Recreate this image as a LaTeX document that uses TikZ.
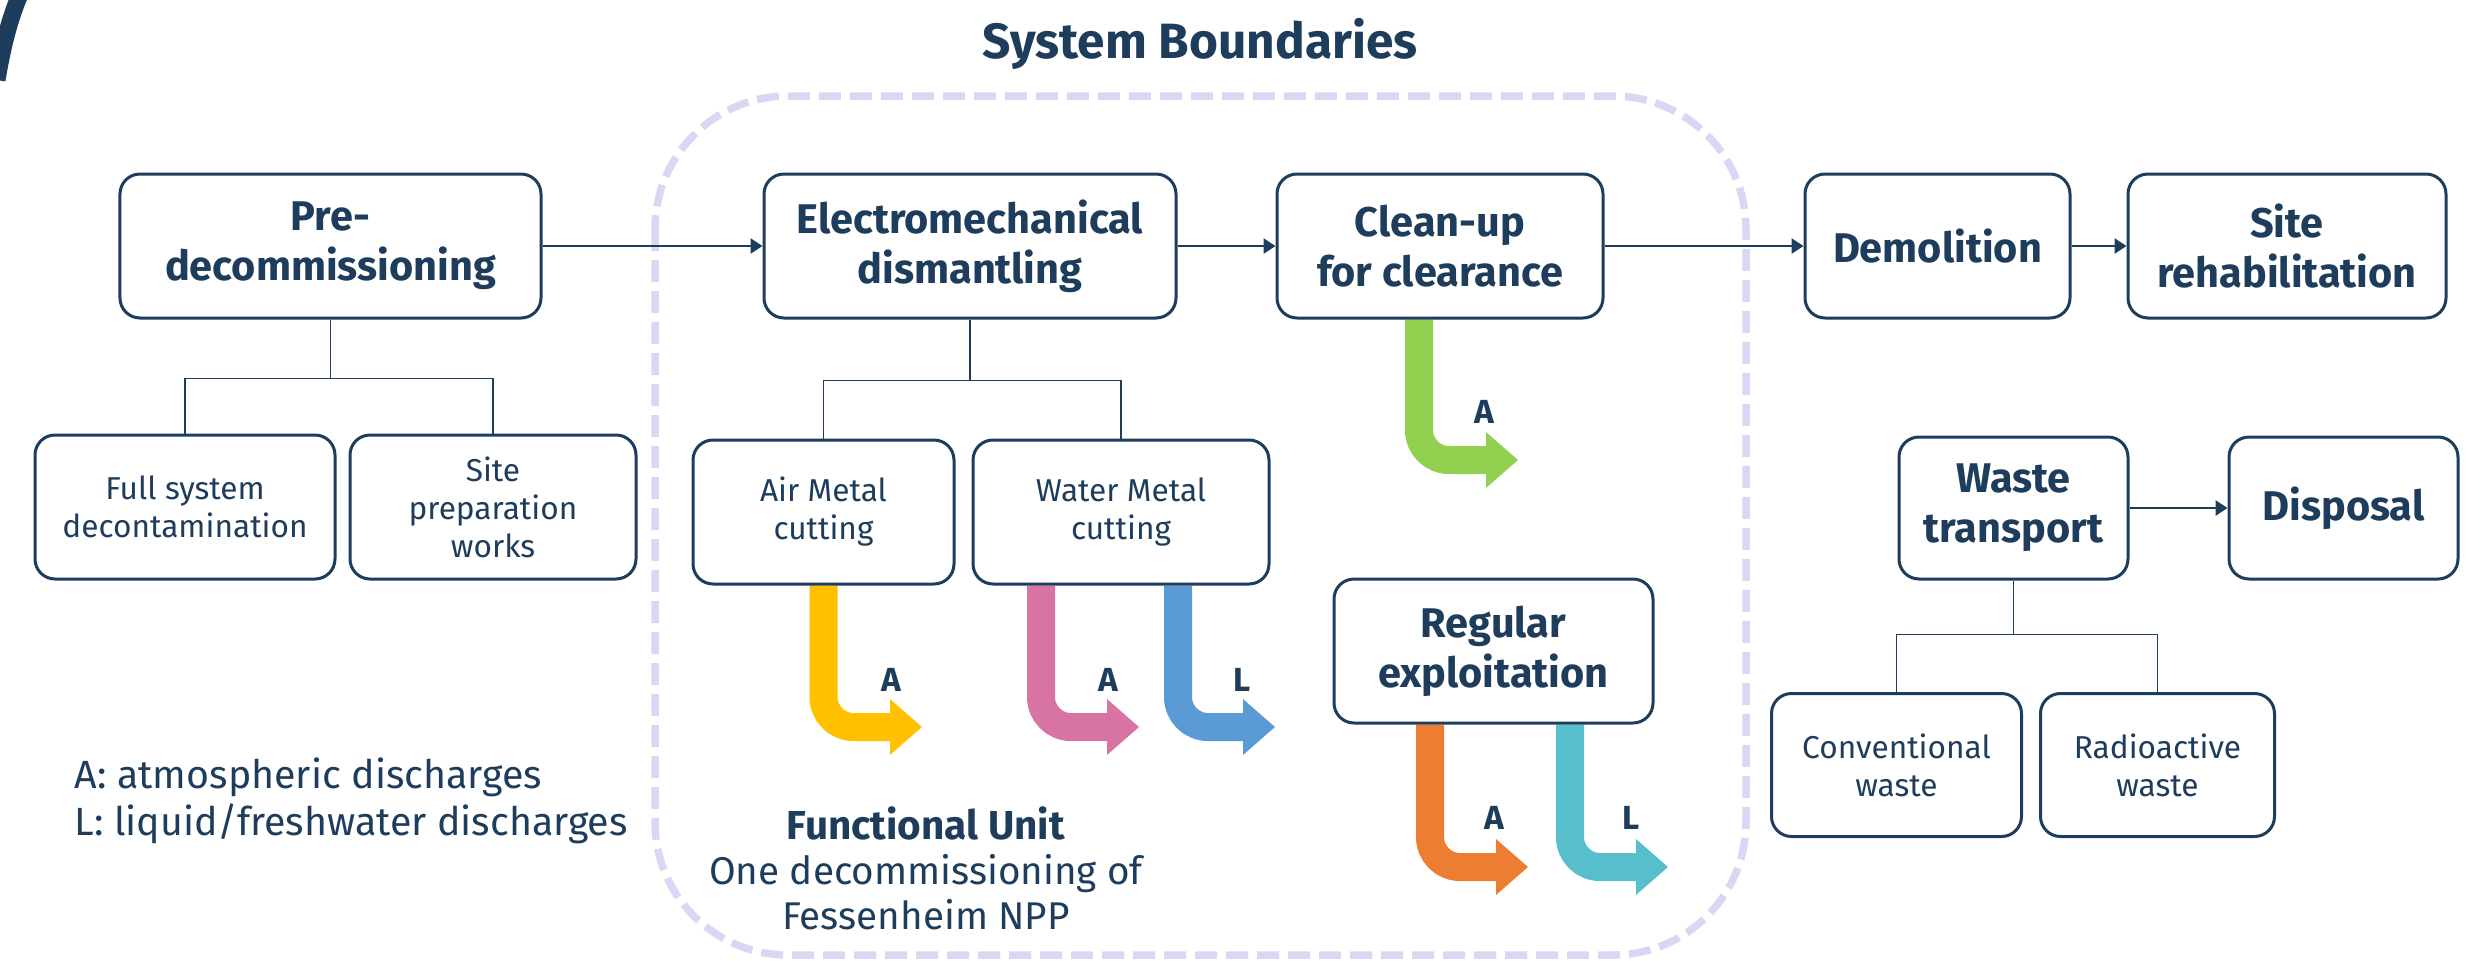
\documentclass[tikz,border=0pt]{standalone}
\usepackage{fontspec}
\setmainfont{Fira Sans}
\usepackage{tikz}
\usetikzlibrary{arrows.meta, backgrounds}

\definecolor{navy}{HTML}{1E3D5C}
\definecolor{lavender}{HTML}{D8D8F4}
\definecolor{ylw}{HTML}{FFC000}
\definecolor{grn}{HTML}{92D050}
\definecolor{pnk}{HTML}{D774A3}
\definecolor{blu}{HTML}{5B9BD5}
\definecolor{orng}{HTML}{ED7D31}
\definecolor{tealc}{HTML}{57BFCC}

\begin{document}
\begin{tikzpicture}[
    stage/.style={draw=navy, line width=0.03cm, rounded corners=0.2cm, fill=white, text=navy,
        align=center, inner sep=0pt, minimum height=1.44cm, font=\fontsize{11.8}{14.2}\selectfont\bfseries},
    task/.style={stage, font=\fontsize{9}{10.8}\selectfont},
    flow/.style={draw=navy, line width=0.028cm, -{Triangle[length=0.12cm,width=0.15cm]}},
    branch/.style={draw=navy, line width=0.016cm},
    discharge/.style={line width=0.28cm, rounded corners=0.3cm, -{Triangle[length=0.32cm,width=0.56cm,line width=0pt]}},
    tag/.style={text=navy, inner sep=0pt, font=\fontsize{9.5}{11}\selectfont\bfseries},
    note/.style={text=navy, inner sep=0pt, font=\fontsize{11.2}{13.2}\selectfont}
  ]
  \useasboundingbox (0,0) rectangle (24.81,-9.61);

  % corner decoration
  \draw[navy, line width=0.17cm] (0.22,0.1) .. controls (0.12,-0.12) and (0.04,-0.38) .. (-0.03,-0.8);

  \node[text=navy, font=\fontsize{14.1}{16}\selectfont\bfseries] (heading) at (12.0,-0.44) {System Boundaries};

  % main chain
  \node[stage, minimum width=4.21cm] (pre)      at (3.305,-2.46)  {Pre-\\decommissioning};
  \node[stage, minimum width=4.12cm] (electro)  at (9.70,-2.46)   {Electromechanical\\dismantling};
  \node[stage, minimum width=3.26cm] (clean)    at (14.40,-2.46)  {Clean-up\\for clearance};
  \node[stage, minimum width=2.65cm] (demol)    at (19.375,-2.46) {Demolition};
  \node[stage, minimum width=3.18cm] (rehab)    at (22.87,-2.46)  {Site\\rehabilitation};

  % sub tasks
  \node[task, minimum width=3.00cm] (full)  at (1.85,-5.07)  {Full system\\decontamination};
  \node[task, minimum width=2.86cm] (prep)  at (4.93,-5.07)  {Site\\preparation\\works};
  \node[task, minimum width=2.61cm] (air)   at (8.235,-5.12) {Air Metal\\cutting};
  \node[task, minimum width=2.96cm] (water) at (11.21,-5.12) {Water Metal\\cutting};
  \node[stage, minimum width=3.19cm] (regular) at (14.935,-6.51) {Regular\\exploitation};

  % waste
  \node[stage, minimum width=2.29cm, minimum height=1.42cm] (waste)    at (20.135,-5.08) {Waste\\transport};
  \node[stage, minimum width=2.29cm, minimum height=1.42cm] (disposal) at (23.435,-5.08) {Disposal};
  \node[task, minimum width=2.50cm, minimum height=1.43cm] (conv)  at (18.965,-7.65) {Conventional\\waste};
  \node[task, minimum width=2.34cm, minimum height=1.43cm] (radio) at (21.575,-7.65) {Radioactive\\waste};

  \draw[flow] (pre) -- (electro);
  \draw[flow] (electro) -- (clean);
  \draw[flow] (clean) -- (demol);
  \draw[flow] (demol) -- (rehab);
  \draw[flow] (waste) -- (disposal);

  \draw[branch] (pre.south) -- ++(0,-0.59) -| (full.north);
  \draw[branch] (pre.south) -- ++(0,-0.59) -| (prep.north);
  \draw[branch] (electro.south) -- ++(0,-0.61) -| (air.north);
  \draw[branch] (electro.south) -- ++(0,-0.61) -| (water.north);
  \draw[branch] (waste.south) -- ++(0,-0.54) -| (conv.north);
  \draw[branch] (waste.south) -- ++(0,-0.54) -| (radio.north);

  % discharge ends
  \coordinate (gTip) at (15.18,-4.60);
  \coordinate (yTip) at (9.22,-7.27);
  \coordinate (pTip) at (11.39,-7.27);
  \coordinate (bTip) at (12.75,-7.27);
  \coordinate (oTip) at (15.28,-8.67);
  \coordinate (tTip) at (16.68,-8.67);

  \begin{scope}[on background layer]
    \draw[lavender, line width=0.075cm, rounded corners=1.33cm, dash pattern=on 0.22cm off 0.09cm]
      (6.55,-0.96) rectangle (17.46,-9.55);
    \draw[discharge, grn]   ([xshift=-0.21cm]clean.south) |- (gTip);
    \draw[discharge, ylw]   (air.south) |- (yTip);
    \draw[discharge, pnk]   ([xshift=-0.80cm]water.south) |- (pTip);
    \draw[discharge, blu]   ([xshift=0.57cm]water.south) |- (bTip);
    \draw[discharge, orng]  ([xshift=-0.635cm]regular.south) |- (oTip);
    \draw[discharge, tealc] ([xshift=0.765cm]regular.south) |- (tTip);
  \end{scope}

  \node[tag] (gA) at (14.84,-4.12) {A};
  \node[tag] (yA) at (8.91,-6.80)  {A};
  \node[tag] (pA) at (11.08,-6.80) {A};
  \node[tag] (bL) at (12.42,-6.80) {L};
  \node[tag] (oA) at (14.94,-8.18) {A};
  \node[tag] (tL) at (16.31,-8.18) {L};

  \node[note, anchor=west, align=left] (legend) at (0.74,-8.01)
    {A: atmospheric discharges\\L: liquid/freshwater discharges};
  \node[note, align=center, font=\fontsize{11}{12.8}\selectfont] (unit) at (9.26,-8.68)
    {{\fontsize{11.5}{12.8}\selectfont\textbf{Functional Unit}}\\One decommissioning of\\Fessenheim NPP};
\end{tikzpicture}
\end{document}
